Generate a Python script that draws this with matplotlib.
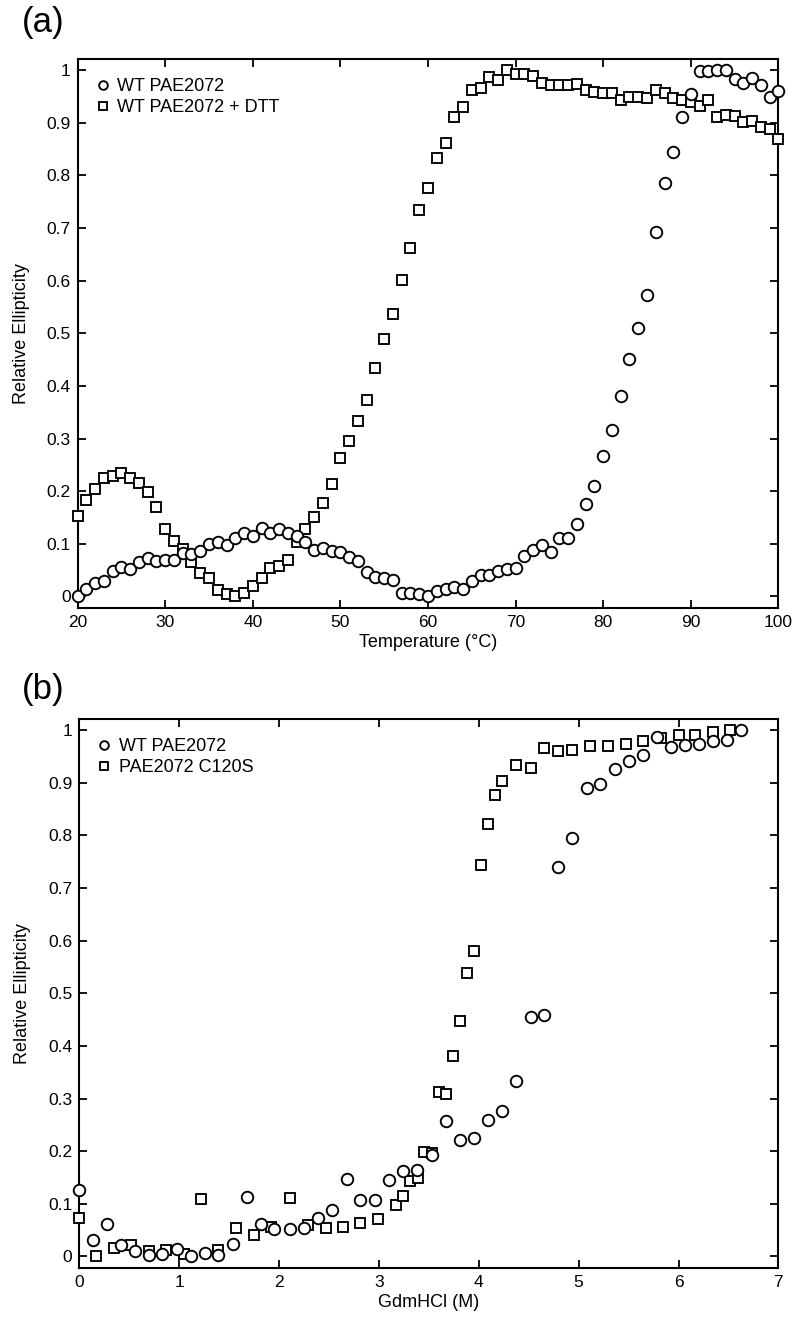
import numpy as np
import matplotlib
matplotlib.use("Agg")
import matplotlib.pyplot as plt
from matplotlib.ticker import FuncFormatter, MultipleLocator

plt.rcParams['font.family'] = ['Liberation Sans Narrow', 'Liberation Sans', 'DejaVu Sans']

# (a) thermal melt, temperature in degrees C
temp = list(range(20, 101))
wt_temp = [0.000, 0.015, 0.025, 0.030, 0.048, 0.056, 0.052, 0.065, 0.074, 0.068,
           0.070, 0.070, 0.082, 0.081, 0.087, 0.100, 0.104, 0.098, 0.111, 0.120,
           0.115, 0.131, 0.120, 0.129, 0.120, 0.114, 0.103, 0.089, 0.093, 0.086,
           0.085, 0.075, 0.068, 0.047, 0.037, 0.036, 0.032, 0.007, 0.007, 0.004,
           0.001, 0.010, 0.014, 0.018, 0.015, 0.029, 0.041, 0.040, 0.049, 0.053,
           0.055, 0.077, 0.088, 0.097, 0.084, 0.111, 0.111, 0.138, 0.175, 0.209,
           0.267, 0.316, 0.380, 0.452, 0.511, 0.573, 0.693, 0.786, 0.845, 0.911,
           0.955, 0.999, 0.999, 1.000, 1.000, 0.984, 0.975, 0.985, 0.972, 0.950,
           0.961]
dtt_temp = [0.153, 0.183, 0.205, 0.226, 0.228, 0.235, 0.226, 0.215, 0.198, 0.170,
            0.129, 0.106, 0.091, 0.065, 0.045, 0.035, 0.013, 0.004, 0.001, 0.006,
            0.019, 0.035, 0.054, 0.058, 0.069, 0.103, 0.128, 0.151, 0.178, 0.214,
            0.263, 0.295, 0.333, 0.374, 0.435, 0.490, 0.537, 0.602, 0.662, 0.734,
            0.777, 0.833, 0.862, 0.912, 0.931, 0.962, 0.966, 0.988, 0.982, 1.000,
            0.993, 0.993, 0.989, 0.976, 0.972, 0.971, 0.971, 0.974, 0.963, 0.958,
            0.957, 0.957, 0.943, 0.950, 0.950, 0.948, 0.963, 0.956, 0.948, 0.943,
            0.940, 0.932, 0.943, 0.912, 0.915, 0.913, 0.901, 0.903, 0.892, 0.889,
            0.869]

# (b) chemical denaturation, GdmHCl in M
wt_conc = [0.0, 0.138, 0.274, 0.418, 0.557, 0.694, 0.833, 0.976, 1.116, 1.26,
           1.39, 1.535, 1.675, 1.818, 1.955, 2.107, 2.25, 2.39, 2.53, 2.68,
           2.815, 2.96, 3.10, 3.245, 3.386, 3.53, 3.67, 3.81, 3.95, 4.09,
           4.235, 4.375, 4.52, 4.657, 4.797, 4.935, 5.08, 5.216, 5.36, 5.50,
           5.645, 5.786, 5.926, 6.067, 6.21, 6.35, 6.49, 6.63]
wt_gdm = [0.126, 0.031, 0.062, 0.022, 0.010, 0.002, 0.004, 0.015, 0.000, 0.007,
          0.002, 0.024, 0.113, 0.062, 0.052, 0.052, 0.055, 0.073, 0.088, 0.147,
          0.107, 0.108, 0.146, 0.162, 0.165, 0.193, 0.257, 0.221, 0.226, 0.259,
          0.277, 0.333, 0.455, 0.459, 0.740, 0.795, 0.890, 0.897, 0.927, 0.942,
          0.953, 0.987, 0.968, 0.971, 0.973, 0.979, 0.982, 1.000]
mut_conc = [0.0, 0.172, 0.344, 0.52, 0.697, 0.87, 1.046, 1.22, 1.39, 1.57,
            1.75, 1.92, 2.11, 2.29, 2.47, 2.64, 2.815, 2.99, 3.17, 3.24,
            3.315, 3.39, 3.456, 3.53, 3.60, 3.67, 3.74, 3.81, 3.88, 3.95,
            4.02, 4.09, 4.16, 4.235, 4.375, 4.52, 4.657, 4.797, 4.935, 5.11,
            5.29, 5.47, 5.645, 5.82, 6.0, 6.17, 6.35, 6.52]
mut_gdm = [0.074, 0.000, 0.017, 0.022, 0.011, 0.013, 0.005, 0.110, 0.012, 0.054,
           0.040, 0.056, 0.111, 0.059, 0.055, 0.056, 0.063, 0.071, 0.098, 0.114,
           0.143, 0.150, 0.198, 0.197, 0.312, 0.309, 0.381, 0.448, 0.538, 0.581,
           0.744, 0.822, 0.876, 0.904, 0.934, 0.928, 0.966, 0.960, 0.963, 0.970,
           0.970, 0.973, 0.979, 0.986, 0.990, 0.991, 0.996, 1.000]

fig = plt.figure(figsize=(8, 13.32), dpi=100)
ax1 = fig.add_axes([0.097, 0.5435, 0.876, 0.4125])
ax2 = fig.add_axes([0.099, 0.048, 0.874, 0.4125])

circ = dict(marker='o', ms=8.3, mfc='white', mec='black', mew=1.35, ls='none', clip_on=False)
sq = dict(marker='s', ms=7.3, mfc='white', mec='black', mew=1.35, ls='none', clip_on=False)

ax1.plot(temp, dtt_temp, label='WT PAE2072 + DTT', zorder=3, **sq)
ax1.plot(temp, wt_temp, label='WT PAE2072', zorder=4, **circ)
ax2.plot(mut_conc, mut_gdm, label='PAE2072 C120S', zorder=3, **sq)
ax2.plot(wt_conc, wt_gdm, label='WT PAE2072', zorder=4, **circ)

fmt = FuncFormatter(lambda v, p: '%g' % round(v, 1))
for ax in (ax1, ax2):
    ax.set_ylim(-0.022, 1.022)
    ax.yaxis.set_major_locator(MultipleLocator(0.1))
    ax.yaxis.set_major_formatter(fmt)
    ax.tick_params(direction='in', length=6, width=1.3, top=True, right=True,
                   labelsize=12.5, pad=5)
    for s in ax.spines.values():
        s.set_linewidth(1.5)
    ax.set_ylabel('Relative Ellipticity', fontsize=13, labelpad=12)
    h, l = ax.get_legend_handles_labels()
    ax.legend(h[::-1], l[::-1], loc='upper left', frameon=False, fontsize=13,
              markerscale=0.75, handlelength=0.6, handletextpad=0.5,
              borderaxespad=0.7, labelspacing=0.2)

ax1.set_xlim(20, 100)
ax1.xaxis.set_major_locator(MultipleLocator(10))
ax1.set_xlabel('Temperature (°C)', fontsize=13, labelpad=3)
ax2.set_xlim(0, 7)
ax2.xaxis.set_major_locator(MultipleLocator(1))
ax2.set_xlabel('GdmHCl (M)', fontsize=13, labelpad=3)

fig.text(0.027, 0.983, '(a)', fontsize=25, va='center')
fig.text(0.027, 0.482, '(b)', fontsize=25, va='center')

plt.savefig('out.png', dpi=100)
